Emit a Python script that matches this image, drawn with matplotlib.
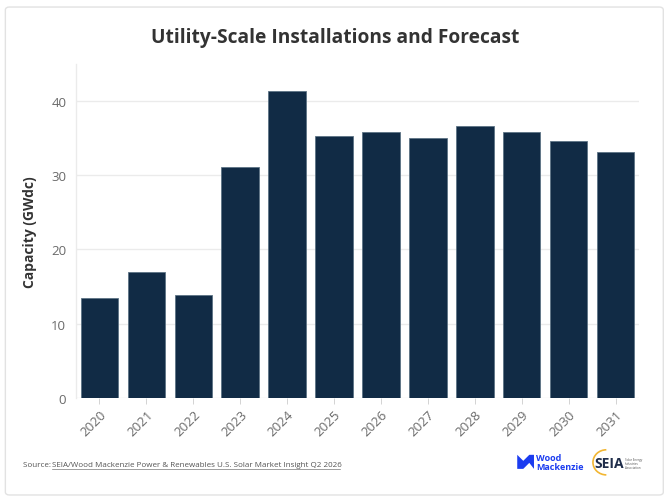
import matplotlib
matplotlib.use("Agg")
import matplotlib.pyplot as plt
from matplotlib.patches import FancyBboxPatch, Polygon, Arc

years = ["2020", "2021", "2022", "2023", "2024", "2025", "2026", "2027", "2028", "2029", "2030", "2031"]
capacity = [13.5, 16.9, 13.8, 31.1, 41.3, 35.3, 35.8, 35.0, 36.6, 35.9, 34.6, 33.1]
yticks = [0, 10, 20, 30, 40]

plt.rcParams['font.family'] = ['Open Sans', 'DejaVu Sans']

fig = plt.figure(figsize=(6.7, 5.02), dpi=100)
fig.patch.set_facecolor("white")

# outer border
border = FancyBboxPatch((0.008, 0.012), 0.982, 0.972, boxstyle="round,pad=0,rounding_size=0.006",
                        transform=fig.transFigure, fill=False, edgecolor="#e2e2e2", linewidth=1.0)
fig.patches.append(border)

ax = fig.add_axes([0.1134, 0.2055, 0.8403, 0.665])
x = list(range(len(years)))
ax.bar(x, capacity, width=0.8, color="#112B45", edgecolor="#5d7385", linewidth=0.6, zorder=3)
ax.set_xlim(-0.5, 11.5)
ax.set_ylim(0, 45)
ax.set_yticks(yticks)
ax.set_yticklabels([str(t) for t in yticks])
ax.set_xticks(x)
ax.set_xticklabels(years, rotation=45, ha="right", va="top", rotation_mode="anchor")
ax.tick_params(axis="x", colors="#6a6a6a", labelsize=9.5, length=4, width=0.6, color="#cccccc", pad=3)
ax.tick_params(axis="y", colors="#6a6a6a", labelsize=9.5, length=0, pad=7)
for lab in ax.get_xticklabels():
    lab.set_color("#6a6a6a")
ax.grid(axis="y", color="#ebebeb", linewidth=1.0, zorder=0)
for s in ["top", "right", "bottom"]:
    ax.spines[s].set_visible(False)
ax.spines["left"].set_color("#ebebeb")
ax.spines["left"].set_linewidth(1.0)
ax.set_ylabel("Capacity (GWdc)", fontsize=10, fontweight="bold", color="#333333", labelpad=10)

fig.text(0.5, 0.924, "Utility-Scale Installations and Forecast", ha="center", va="center",
         fontsize=13.8, fontweight="bold", color="#333333")

# source line
fig.text(0.034, 0.072, "Source: ", ha="left", va="center", fontsize=5.8, color="#555555")
fig.text(0.078, 0.072, "SEIA/Wood Mackenzie Power & Renewables U.S. Solar Market Insight Q2 2026",
         ha="left", va="center", fontsize=5.8, color="#555555")
fig.add_artist(plt.Line2D([0.078, 0.508], [0.0635, 0.0635], transform=fig.transFigure,
                          color="#777777", linewidth=0.5))

# Wood Mackenzie logo (simple)
wm = Polygon([[0.772, 0.064], [0.772, 0.092], [0.781, 0.080], [0.790, 0.092], [0.797, 0.092],
              [0.797, 0.064], [0.790, 0.076], [0.781, 0.064]], closed=True,
             transform=fig.transFigure, facecolor="#1B3CF0", edgecolor="none")
fig.patches.append(wm)
fig.text(0.800, 0.086, "Wood", ha="left", va="center", fontsize=6.5, fontweight="bold", color="#1B3CF0")
fig.text(0.800, 0.068, "Mackenzie", ha="left", va="center", fontsize=6.5, fontweight="bold", color="#1B3CF0")
arc = Arc((0.905, 0.077), 0.04, 0.05, angle=0, theta1=90, theta2=270, transform=fig.transFigure,
          color="#f2b632", linewidth=1.2)
fig.add_artist(arc)
fig.text(0.887, 0.076, "SEIA", ha="left", va="center", fontsize=10, fontweight="bold", color="#1f2d4a")
fig.text(0.933, 0.084, "Solar Energy", ha="left", va="center", fontsize=2.2, color="#555555")
fig.text(0.933, 0.076, "Industries", ha="left", va="center", fontsize=2.2, color="#555555")
fig.text(0.933, 0.068, "Association", ha="left", va="center", fontsize=2.2, color="#555555")

fig.savefig("out.png", dpi=100, facecolor="white")
